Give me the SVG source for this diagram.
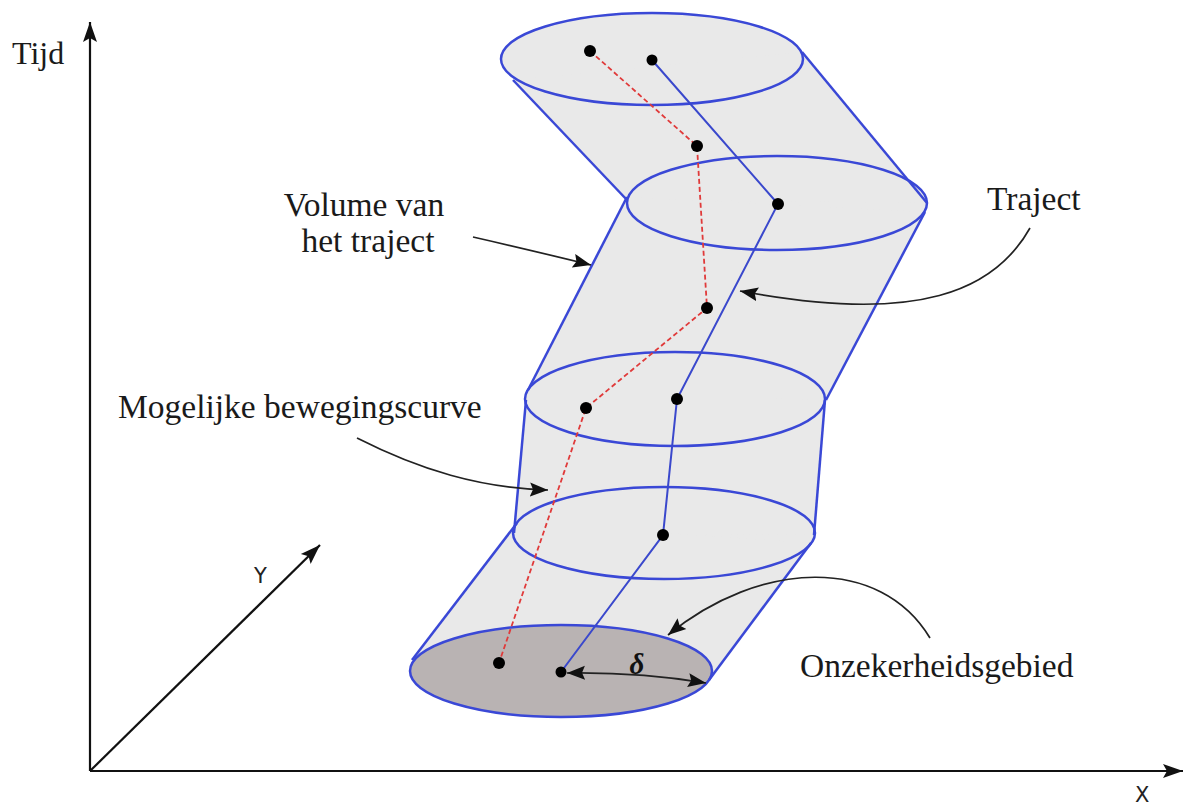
<svg xmlns="http://www.w3.org/2000/svg" width="1186" height="807" viewBox="0 0 1186 807">
<style>
.fill{fill:#e9e9e9;stroke:none}
.edge{fill:none;stroke:#3a48d6;stroke-width:2.5}
.traj{fill:none;stroke:#3a48cc;stroke-width:2}
.curve{fill:none;stroke:#e03a3a;stroke-width:1.8;stroke-dasharray:5 3}
.dot{fill:#000}
.axis{fill:none;stroke:#111;stroke-width:2.2}
.ptr{fill:none;stroke:#222;stroke-width:1.7}
.lbl{font-family:"Liberation Serif",serif;font-size:33.5px;fill:#1a1a1a}
.ax{font-family:"DejaVu Sans","Liberation Sans",sans-serif;font-size:21px;fill:#222}
</style>
<defs>
<marker id="axh" markerUnits="userSpaceOnUse" markerWidth="22" markerHeight="16" refX="20" refY="8" orient="auto">
<path d="M0,1 L20,8 L0,15 L4,8 Z" fill="#111"/>
</marker>
<marker id="ah" markerUnits="userSpaceOnUse" markerWidth="20" markerHeight="16" refX="18" refY="8" orient="auto-start-reverse">
<path d="M0,1 L18,8 L0,15 L3,8 Z" fill="#111"/>
</marker>
</defs>

<g id="axes">
<line class="axis" x1="90" y1="771" x2="90" y2="22" marker-end="url(#axh)"/>
<line class="axis" x1="90" y1="771" x2="1183" y2="771" marker-end="url(#axh)"/>
<line class="axis" x1="90" y1="771" x2="320" y2="545" marker-end="url(#axh)" stroke-width="1.8"/>
<text class="lbl" x="12" y="64" style="font-size:32px">Tijd</text>
<text class="ax" x="1135" y="802">X</text>
<text class="ax" x="254" y="583">Y</text>
</g>

<g id="volume">
<g id="volume-fill">
<ellipse class="fill" cx="652" cy="59" rx="151" ry="46"/>
<ellipse class="fill" cx="777" cy="203" rx="150" ry="47"/>
<ellipse class="fill" cx="675" cy="399" rx="150" ry="47"/>
<ellipse class="fill" cx="664" cy="533" rx="151" ry="46"/>
<polygon class="fill" points="513,80 802,52 927,203 627,200"/>
<polygon class="fill" points="627,197 925,212 826,400 528,390"/>
<polygon class="fill" points="526,400 825,400 814,535 514,533"/>
<polygon class="fill" points="517,523 811,543 709,680 412,660"/>
</g>
<ellipse id="onzekerheidsgebied" cx="561" cy="671" rx="151" ry="46" fill="#b9b3b3" stroke="#3a48d6" stroke-width="2.5"/>
<g id="volume-edges">
<ellipse class="edge" cx="652" cy="59" rx="151" ry="46"/>
<ellipse class="edge" cx="777" cy="203" rx="150" ry="47"/>
<ellipse class="edge" cx="675" cy="399" rx="150" ry="47"/>
<ellipse class="edge" cx="664" cy="533" rx="151" ry="46"/>
<line class="edge" x1="513" y1="80" x2="627" y2="200"/>
<line class="edge" x1="802" y1="52" x2="927" y2="203"/>
<line class="edge" x1="627" y1="197" x2="528" y2="390"/>
<line class="edge" x1="925" y1="212" x2="826" y2="400"/>
<line class="edge" x1="526" y1="400" x2="514" y2="533"/>
<line class="edge" x1="825" y1="400" x2="814" y2="535"/>
<line class="edge" x1="517" y1="523" x2="412" y2="660"/>
<line class="edge" x1="811" y1="543" x2="709" y2="680"/>
</g>
</g>

<g id="traject">
<polyline class="traj" points="652,60 778,204 677,399 663,535 561,672"/>
</g>
<g id="bewegingscurve">
<polyline class="curve" points="590,51 697,146 707,308 586,408 499,663"/>
</g>
<g id="points">
<circle class="dot" cx="590" cy="51" r="6"/>
<circle class="dot" cx="652" cy="60" r="5.5"/>
<circle class="dot" cx="697" cy="146" r="6"/>
<circle class="dot" cx="778" cy="204" r="6"/>
<circle class="dot" cx="707" cy="308" r="6"/>
<circle class="dot" cx="586" cy="408" r="6"/>
<circle class="dot" cx="677" cy="399" r="6"/>
<circle class="dot" cx="663" cy="535" r="6"/>
<circle class="dot" cx="499" cy="663" r="6"/>
<circle class="dot" cx="561" cy="672" r="5.5"/>
</g>

<g id="connectors">
<path class="ptr" d="M473,237 Q530,250 591,265" marker-end="url(#ah)"/>
<path class="ptr" d="M1030,228 C995,290 920,325 740,291" marker-end="url(#ah)"/>
<path class="ptr" d="M357,438 C420,470 480,488 548,490" marker-end="url(#ah)"/>
<path class="ptr" d="M930,638 C880,555 760,560 668,635" marker-end="url(#ah)"/>
<path class="ptr" d="M567,673 Q640,672 706,683" marker-start="url(#ah)" marker-end="url(#ah)"/>
</g>

<g id="labels">
<text class="lbl" x="364" y="216" text-anchor="middle">Volume van</text>
<text class="lbl" x="368" y="252" text-anchor="middle">het traject</text>
<text class="lbl" x="987" y="210">Traject</text>
<text class="lbl" x="118" y="418">Mogelijke bewegingscurve</text>
<text class="lbl" x="800" y="677">Onzekerheidsgebied</text>
<text x="637" y="674" text-anchor="middle" font-family="Liberation Serif,serif" font-style="italic" font-weight="bold" font-size="29" fill="#111">δ</text>
</g>
</svg>
